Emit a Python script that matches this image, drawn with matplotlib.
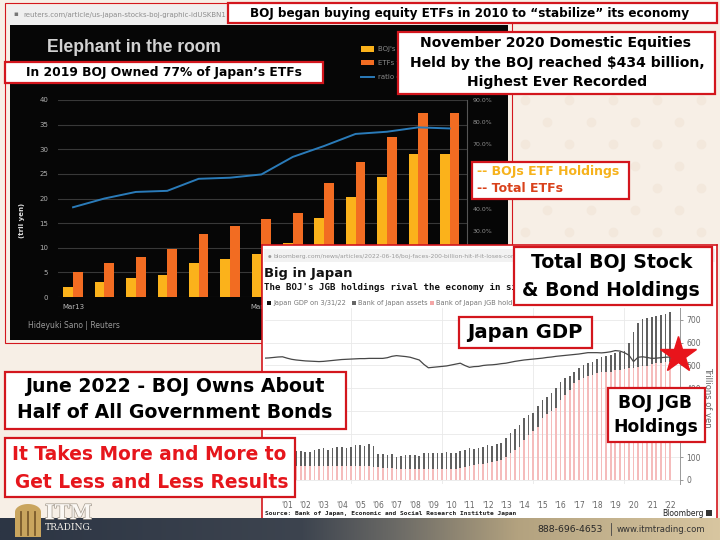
import numpy as np
import matplotlib
matplotlib.use("Agg")
import matplotlib.pyplot as plt
import matplotlib.patheffects as pe
from matplotlib.patches import Rectangle, Polygon
from matplotlib.lines import Line2D
from matplotlib.colors import LinearSegmentedColormap

W, H = 720, 540

# Reuters chart: BOJ ETF holdings vs whole ETF market (trillion yen), half-yearly
etf_periods = ["Mar13", "Sep13", "Mar14", "Sep14", "Mar15", "Sep15", "Mar16",
               "Sep16", "Mar17", "Sep17", "Mar18", "Sep18", "Mar19"]
boj_etf = [2.0, 3.0, 3.8, 4.5, 6.9, 7.7, 8.7, 11.0, 16.0, 20.3, 24.3, 29.0, 29.0]
total_etf = [5.1, 6.9, 8.1, 9.7, 12.8, 14.4, 15.8, 17.0, 23.1, 27.4, 32.5, 37.3, 37.3]
boj_ratio = [41, 45, 48, 48.5, 54, 54.5, 56, 64, 69, 74.5, 75.5, 77.5, 77]
etf_shown = ["Mar13", "Mar16", "Mar19"]

# Bloomberg chart: quarter ends 2000 Q1 .. 2022 Q2, trillions of yen
boj_assets = [112, 110, 114, 118, 122, 131, 125, 128, 125, 124, 122, 130,
              135, 139, 132, 138, 145, 145, 140, 146, 152, 153, 150, 155,
              150, 115, 112, 110, 112, 102, 104, 108, 110, 109, 106, 118,
              120, 117, 116, 118, 122, 119, 118, 126, 130, 139, 136, 140,
              145, 153, 150, 158, 161, 183, 205, 224, 240, 270, 282, 294,
              323, 349, 362, 380, 403, 429, 445, 454, 473, 489, 500, 510,
              517, 528, 535, 540, 546, 556, 560, 565, 598, 648, 685, 703,
              708, 712, 717, 720, 725, 735]
boj_jgb = [50, 52, 54, 56, 57, 58, 59, 60, 60, 60, 61, 62,
           62, 62, 62, 62, 62, 62, 62, 62, 62, 62, 61, 60,
           58, 56, 54, 52, 52, 50, 50, 49, 48, 47, 47, 47,
           47, 46, 46, 47, 48, 49, 50, 52, 55, 60, 64, 68,
           71, 74, 78, 83, 87, 102, 118, 132, 145, 175, 195, 215,
           233, 270, 290, 300, 314, 349, 370, 393, 423, 437, 445, 452,
           459, 467, 470, 472, 473, 480, 482, 485, 487, 489, 493, 496,
           498, 507, 510, 513, 515, 517]
japan_gdp = [532, 533, 535, 537, 538, 532, 527, 524, 522, 520, 519, 518,
             517, 518, 520, 522, 524, 526, 527, 528, 529, 530, 530, 531,
             531, 531, 531, 534, 540, 543, 541, 539, 536, 530, 524, 505,
             490, 492, 494, 496, 498, 502, 506, 510, 500, 492, 495, 496,
             500, 502, 503, 505, 508, 510, 514, 518, 521, 524, 526, 528,
             530, 532, 535, 537, 540, 542, 544, 546, 548, 550, 553, 556,
             556, 556, 555, 557, 560, 565, 563, 556, 545, 517, 536, 538,
             535, 531, 532, 534, 536, 537]
label_years = list(range(2001, 2023))
year_labels = ["'%02d" % (y % 100) for y in label_years]

RED = "#d3161d"


def box(x0, y0, x1, y1):
    return [x0 / W, 1 - y1 / H, (x1 - x0) / W, (y1 - y0) / H]


def fx(x):
    return x / W


def fy(y):
    return 1 - y / H


fig = plt.figure(figsize=(7.2, 5.4), dpi=100)
fig.patch.set_facecolor("#f7efe6")
renderer = fig.canvas.get_renderer()


def fit(txt, width, **kw):
    t = fig.text(0, 0, txt, fontsize=20, **kw)
    w = t.get_window_extent(renderer).width
    t.remove()
    return 20 * width / w


def ptext(x, y, s, **kw):
    return fig.text(fx(x), fy(y), s, **kw)


# faint dotted pattern of the slide background
for row, yy in enumerate(range(100, 250, 22)):
    xs = [xx for xx in range(525 + (row % 2) * 22, 720, 44)]
    fig.add_artist(Line2D([fx(v) for v in xs], [fy(yy)] * len(xs), transform=fig.transFigure,
                          marker="o", markersize=6, lw=0, color="#f3e8dc", zorder=0.2))

# ---------------- top screenshot (Reuters) ----------------
fig.add_artist(Rectangle((fx(5), fy(343)), 507 / W, 340 / H, transform=fig.transFigure,
                         fill=False, ec=RED, lw=0.8, zorder=0.5))
fig.add_artist(Rectangle((fx(8), fy(25)), 502 / W, 20 / H, transform=fig.transFigure,
                         fc="#efefef", ec="none", zorder=0.6))
ptext(13, 14.5, "\u25aa", fontsize=5, color="#777", va="center", zorder=3)
s = fit("reuters.com/article/us-japan-stocks-boj-graphic-idUSKBN1", 202)
ptext(23, 14.5, "reuters.com/article/us-japan-stocks-boj-graphic-idUSKBN1", fontsize=s,
      color="#8d8d8d", va="center", zorder=3)

ax_bg = fig.add_axes(box(10, 25, 508, 340), zorder=1)
ax_bg.set_facecolor("#060606")
ax_bg.set_xticks([])
ax_bg.set_yticks([])
for sp in ax_bg.spines.values():
    sp.set_visible(False)

s = fit("Elephant in the room", 174, family="Liberation Sans", weight="bold")
ptext(47, 48, "Elephant in the room", fontsize=s, family="Liberation Sans", weight="bold",
      color="#d2d2d2", va="center", zorder=3)

ax = fig.add_axes(box(58, 100, 467, 297), zorder=2)
ax.set_facecolor("none")
x = np.arange(len(etf_periods))
bw = 0.31
ax.bar(x - bw / 2, boj_etf, bw, color="#fbb21b", zorder=2)
ax.bar(x + bw / 2, total_etf, bw, color="#f26c22", zorder=2)
ax.set_xlim(-0.48, 12.55)
ax.set_ylim(0, 40)
ax.set_yticks(range(0, 41, 5))
ax.grid(axis="y", color="#383838", lw=0.8)
ax.set_axisbelow(True)
ax.set_xticks([etf_periods.index(p) for p in etf_shown])
ax.set_xticklabels(etf_shown)
ax.tick_params(axis="x", length=0, pad=5, labelsize=5, labelcolor="#b8b8b8")
ax.tick_params(axis="y", length=0, pad=7, labelsize=5, labelcolor="#b0b0b0")
for sp in ax.spines.values():
    sp.set_visible(False)

ax2 = ax.twinx()
ax2.set_zorder(2.1)
ax2.plot(x, boj_ratio, color="#2a7bb9", lw=1.4)
ax2.set_ylim(0, 90)
ax2.set_yticks(range(0, 91, 10))
ax2.set_yticklabels(["%.1f%%" % v for v in range(0, 91, 10)])
ax2.tick_params(axis="y", length=0, pad=4, labelsize=4.5, labelcolor="#8e8e8e")
for k, sp in ax2.spines.items():
    sp.set_visible(k == "right")
ax2.spines["right"].set_color("#555555")

# legend of the reuters chart (mostly hidden under the note)
for yy, c, lab in [(49, "#fbb21b", "BOJ's ETF holdings"), (63, "#f26c22", "ETFs total"),
                   (77, "#2a7bb9", "ratio of BOJ's holdings")]:
    if lab.startswith("ratio"):
        fig.add_artist(Line2D([fx(361), fx(374)], [fy(yy), fy(yy)], transform=fig.transFigure,
                              color=c, lw=1.4, zorder=3))
    else:
        fig.add_artist(Rectangle((fx(361), fy(yy + 2.5)), 13 / W, 5 / H, transform=fig.transFigure,
                                 fc=c, ec="none", zorder=3))
    ptext(378, yy, lab, fontsize=5, color="#8a8a8a", va="center", zorder=3)

ptext(22, 220, "(tril yen)", fontsize=5, color="#dddddd", weight="bold", rotation=90,
      ha="center", va="center", zorder=3)
ptext(28, 325, "Hideyuki Sano | Reuters", fontsize=5.5, color="#9a9a9a", va="center", zorder=3)

# ---------------- bottom screenshot (Bloomberg) ----------------
bb = fig.add_axes(box(262, 245, 717, 519), zorder=5)
bb.set_facecolor("white")
bb.set_xticks([])
bb.set_yticks([])
for sp in bb.spines.values():
    sp.set_color(RED)
    sp.set_linewidth(1.2)
fig.add_artist(Rectangle((fx(264), fy(262)), 451 / W, 13 / H, transform=fig.transFigure,
                         fc="#f2f2f2", ec="none", zorder=5.5))
url = "bloomberg.com/news/articles/2022-06-16/boj-faces-200-billion-hit-if-it-loses-control-of-the-curve"
ptext(268, 257, "\u25cf", fontsize=3, color="#999", va="center", zorder=7)
ptext(274, 257, url, fontsize=4.3, color="#9a9a9a", va="center", zorder=7)
s = fit("Big in Japan", 88, weight="bold")
ptext(264, 274, "Big in Japan", fontsize=s, weight="bold", color="#111", va="center", zorder=7)
s = fit("The BOJ's JGB holdings rival the economy in s", 249, family="DejaVu Sans Mono", weight="bold")
ptext(264, 288, "The BOJ's JGB holdings rival the economy in size", fontsize=s,
      family="DejaVu Sans Mono", weight="bold", color="#111", va="center", zorder=7)
for sx, c, lab in [(267, "#111111", "Japan GDP on 3/31/22"), (352, "#666666", "Bank of Japan assets"),
                   (430, "#f4a6a6", "Bank of Japan JGB holdings")]:
    fig.add_artist(Rectangle((fx(sx), fy(305)), 4 / W, 4 / H, transform=fig.transFigure,
                             fc=c, ec="none", zorder=7))
    ptext(sx + 6, 303, lab, fontsize=4.8, color="#777", va="center", zorder=7)

ax3 = fig.add_axes(box(265, 308, 680, 484), zorder=6)
ax3.set_facecolor("none")
qt = 2000.25 + 0.25 * np.arange(len(boj_assets))
ax3.bar(qt, boj_assets, width=0.09, color="#606060", zorder=2)
ax3.bar(qt, boj_jgb, width=0.09, color="#f5bcbc", zorder=2.1)
ax3.plot(qt, japan_gdp, color="#474747", lw=0.9, zorder=3)
ax3.set_xlim(2000.29, 2023.05)
ax3.set_ylim(-17.5, 751)
ax3.set_yticks(range(0, 701, 100))
ax3.yaxis.tick_right()
ax3.grid(axis="y", color="#e9e9e9", lw=0.6)
ax3.set_xticks([y + 0.5 for y in label_years])
ax3.set_xticklabels(year_labels)
ax3.set_xticks([2005, 2010, 2015, 2020], minor=True)
ax3.grid(axis="x", which="minor", color="#e9e9e9", lw=0.6)
ax3.set_axisbelow(True)
ax3.tick_params(axis="x", which="both", length=0, pad=12, labelsize=5.5, labelcolor="#666")
ax3.tick_params(axis="y", length=2.5, width=0.6, color="#888", pad=2, labelsize=5.5, labelcolor="#666")
for k, sp in ax3.spines.items():
    sp.set_visible(k == "right")
ax3.spines["right"].set_color("#999999")
ax3.spines["right"].set_linewidth(0.7)
ptext(708, 397, "Trillions of yen", fontsize=6, color="#666", rotation=-90,
      ha="center", va="center", zorder=7)

s = fit("Source: Bank of Japan, Economic and Social Research Institute Japan", 255,
        family="DejaVu Sans Mono", weight="bold")
ptext(265, 513, "Source: Bank of Japan, Economic and Social Research Institute Japan", fontsize=s,
      family="DejaVu Sans Mono", weight="bold", color="#222", va="center", zorder=7)
ptext(704, 513, "Bloomberg", fontsize=5.5, color="#222", ha="right", va="center", zorder=7)
fig.add_artist(Rectangle((fx(706), fy(516)), 6 / W, 6 / H, transform=fig.transFigure,
                         fc="#333", ec="none", zorder=7))

fig.add_artist(Line2D([fx(678)], [fy(355)], transform=fig.transFigure, marker="*",
                      markersize=27, color="#e8141b", lw=0, zorder=9))

# ---------------- note boxes ----------------


def note(x0, y0, x1, y1, lines, color="black"):
    fig.add_artist(Rectangle((fx(x0), fy(y1)), (x1 - x0) / W, (y1 - y0) / H,
                             transform=fig.transFigure, fc="white", ec=RED, lw=1.6, zorder=10))
    size = min(fit(t, w, weight="bold") for t, cx, cy, w in lines)
    for t, cx, cy, w in lines:
        ptext(cx, cy, t, fontsize=size, weight="bold", color=color, ha="center",
              va="center", zorder=11)


note(228, 3, 717, 23, [("BOJ began buying equity ETFs in 2010 to \u201cstabilize\u201d its economy", 470, 13, 440)])
note(5, 62, 323, 83, [("In 2019 BOJ Owned 77% of Japan\u2019s ETFs", 164, 72.5, 276)])
note(398, 32, 715, 94, [("November 2020 Domestic Equities", 556, 43, 273),
                        ("Held by the BOJ reached $434 billion,", 557, 63, 296),
                        ("Highest Ever Recorded", 557, 82, 180)])
note(514, 247, 712, 305, [("Total BOJ Stock", 612, 263, 170), ("& Bond Holdings", 611, 290, 177)])
note(459, 317, 592, 348, [("Japan GDP", 524.5, 333, 115)])
note(5, 372, 346, 429, [("June 2022 - BOJ Owns About", 175, 387, 316),
                        ("Half of All Government Bonds", 175, 413, 316)])
note(5, 438, 295, 497, [("It Takes More and More to", 149, 455, 278),
                        ("Get Less and Less Results", 151.5, 482, 273)], color="#e6161c")
note(608, 388, 705, 442, [("BOJ JGB", 655, 403, 84), ("Holdings", 655.5, 427, 85)])

fig.add_artist(Rectangle((fx(472), fy(199)), 157 / W, 37 / H, transform=fig.transFigure,
                         fc="white", ec=RED, lw=1.6, zorder=10))
s = fit("-- BOJs ETF Holdings", 143, weight="bold")
ptext(477, 172, "-- BOJs ETF Holdings", fontsize=s, weight="bold", color="#f6b21c", va="center", zorder=11)
ptext(477, 188, "-- Total ETFs", fontsize=s, weight="bold", color="#d9411b", va="center", zorder=11)

# ---------------- footer ----------------
ax_f = fig.add_axes(box(0, 518, 720, 540), zorder=8)
cm = LinearSegmentedColormap.from_list("band", [(0, "#2c3544"), (0.42, "#3d444f"), (0.55, "#6b6a66"),
                                                (0.72, "#b3a27f"), (1, "#d8c6a0")])
ax_f.imshow(np.linspace(0, 1, 256)[None, :], aspect="auto", cmap=cm, extent=[0, 1, 0, 1])
ax_f.axis("off")

arch = [(15, 537), (15, 512)]
for a in np.linspace(np.pi, 0, 20):
    arch.append((28 + 13 * np.cos(a), 512 - 8 * np.sin(a)))
arch += [(41, 512), (41, 537)]
fig.add_artist(Polygon([(fx(px), fy(py)) for px, py in arch], closed=True, transform=fig.transFigure,
                       fc="#c9a55e", ec="none", zorder=9))
for sx in [21, 28, 35]:
    fig.add_artist(Line2D([fx(sx), fx(sx)], [fy(512), fy(535)], transform=fig.transFigure,
                          color="#7a5a2c", lw=1.3, zorder=9.5))
outline = [pe.withStroke(linewidth=1.0, foreground="#a39a8e")]
s = fit("ITM", 47, family="DejaVu Serif", weight="bold")
ptext(45, 513, "ITM", fontsize=s, family="DejaVu Serif", weight="bold", color="#fbf8f4",
      va="center", zorder=9, path_effects=outline)
s = fit("TRADING.", 48, family="DejaVu Serif")
ptext(45, 528, "TRADING.", fontsize=s, family="DejaVu Serif", color="#f4f0ea", va="center", zorder=9)

s = fit("888-696-4653", 66)
ptext(537, 529, "888-696-4653", fontsize=s, color="#262626", va="center", zorder=9)
fig.add_artist(Line2D([fx(611), fx(611)], [fy(523), fy(535)], transform=fig.transFigure,
                      color="#444", lw=0.6, zorder=9))
s = fit("www.itmtrading.com", 88)
ptext(617, 529, "www.itmtrading.com", fontsize=s, color="#333", va="center", zorder=9)

fig.savefig("out.png", dpi=100, facecolor=fig.get_facecolor())
